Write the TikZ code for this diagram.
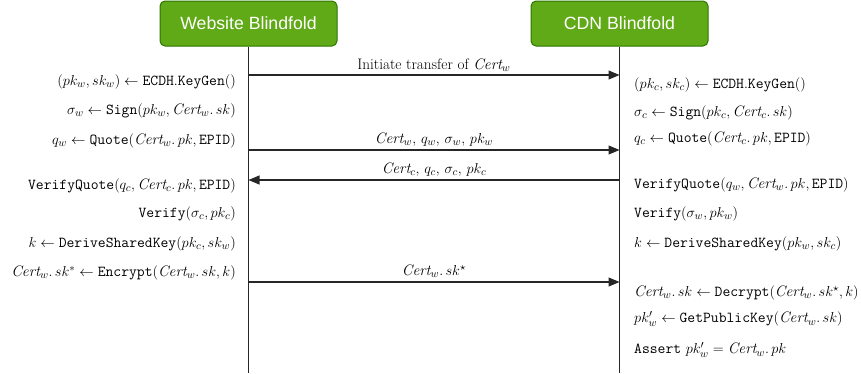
\documentclass[tikz,border=0pt]{standalone}
\usepackage{fontspec}
\newfontfamily\boxfont{Liberation Sans}
\usetikzlibrary{arrows.meta}
\definecolor{actorfill}{HTML}{60A917}
\definecolor{actorline}{HTML}{2D7600}
\tikzset{
  actor/.style={draw=actorline, fill=actorfill, line width=1pt, rounded corners=5pt,
    minimum width=177pt, minimum height=45pt, inner sep=0pt,
    text=white, font=\boxfont\fontsize{17.7pt}{20pt}\selectfont},
  lifeline/.style={draw=black!85, line width=1.1pt},
  msg/.style={draw=black!85, line width=1.1pt, -{Triangle[length=11pt,width=9pt]}},
  msglabel/.style={inner sep=0pt, anchor=base, font=\fontsize{15.2pt}{17pt}\selectfont},
  lstep/.style={inner sep=0pt, anchor=east, font=\fontsize{15.2pt}{17pt}\selectfont},
  rstep/.style={inner sep=0pt, anchor=west, font=\fontsize{15.2pt}{17pt}\selectfont},
}
\newcommand{\fn}[1]{\mathtt{#1}}
\newcommand{\crt}{\mathit{Cert}}
\begin{document}
\begin{tikzpicture}[x=1pt,y=-1pt]
\useasboundingbox (0,0) rectangle (861,373);

% participants
\node[actor] (web) at (248.5,23.5) {Website Blindfold};
\node[actor] (cdn) at (619.5,23.5) {CDN Blindfold};
\coordinate (webend) at (248.5,373);
\coordinate (cdnend) at (619.5,373);
\draw[lifeline] (web.south) -- (webend);
\draw[lifeline] (cdn.south) -- (cdnend);

% message anchors on the lifelines
\coordinate (w1) at (248.5,75);  \coordinate (c1) at (619.5,75);
\coordinate (w2) at (248.5,150); \coordinate (c2) at (619.5,150);
\coordinate (w3) at (248.5,180); \coordinate (c3) at (619.5,180);
\coordinate (w4) at (248.5,282); \coordinate (c4) at (619.5,282);

\draw[msg] (w1) -- node[msglabel, above=3pt] {Initiate transfer of $\crt_w$} (c1);
\draw[msg] (w2) -- node[msglabel, above=3pt] {$\crt_w,\, q_w,\, \sigma_w,\, pk_w$} (c2);
\draw[msg] (c3) -- node[msglabel, above=3pt] {$\crt_c,\, q_c,\, \sigma_c,\, pk_c$} (w3);
\draw[msg] (w4) -- node[msglabel, above=4pt] {$\crt_w.\,sk^\star$} (c4);

% website side
\node[lstep] (l1) at (236,82)  {$(pk_w, sk_w) \leftarrow \fn{ECDH.KeyGen}()$};
\node[lstep] (l2) at (236,111) {$\sigma_w \leftarrow \fn{Sign}(pk_w, \crt_w.\,sk)$};
\node[lstep] (l3) at (236,141) {$q_w \leftarrow \fn{Quote}(\crt_w.\,pk, \fn{EPID})$};
\node[lstep] (l4) at (236,186) {$\fn{VerifyQuote}(q_c, \crt_c.\,pk, \fn{EPID})$};
\node[lstep] (l5) at (236,214) {$\fn{Verify}(\sigma_c, pk_c)$};
\node[lstep] (l6) at (236,244) {$k \leftarrow \fn{DeriveSharedKey}(pk_c, sk_w)$};
\node[lstep] (l7) at (236,273) {$\crt_w.\,sk^{*} \leftarrow \fn{Encrypt}(\crt_w.\,sk, k)$};

% CDN side
\node[rstep] (r1) at (634,85)  {$(pk_c, sk_c) \leftarrow \fn{ECDH.KeyGen}()$};
\node[rstep] (r2) at (634,113) {$\sigma_c \leftarrow \fn{Sign}(pk_c, \crt_c.\,sk)$};
\node[rstep] (r3) at (634,139) {$q_c \leftarrow \fn{Quote}(\crt_c.\,pk, \fn{EPID})$};
\node[rstep] (r4) at (634,185) {$\fn{VerifyQuote}(q_w, \crt_w.\,pk, \fn{EPID})$};
\node[rstep] (r5) at (634,214) {$\fn{Verify}(\sigma_w, pk_w)$};
\node[rstep] (r6) at (634,244) {$k \leftarrow \fn{DeriveSharedKey}(pk_w, sk_c)$};
\node[rstep] (r7) at (634,293) {$\crt_w.\,sk \leftarrow \fn{Decrypt}(\crt_w.\,sk^\star, k)$};
\node[rstep] (r8) at (634,319) {$pk'_w \leftarrow \fn{GetPublicKey}(\crt_w.\,sk)$};
\node[rstep] (r9) at (634,350) {$\fn{Assert}~ pk'_w = \crt_w.\,pk$};
\end{tikzpicture}
\end{document}
